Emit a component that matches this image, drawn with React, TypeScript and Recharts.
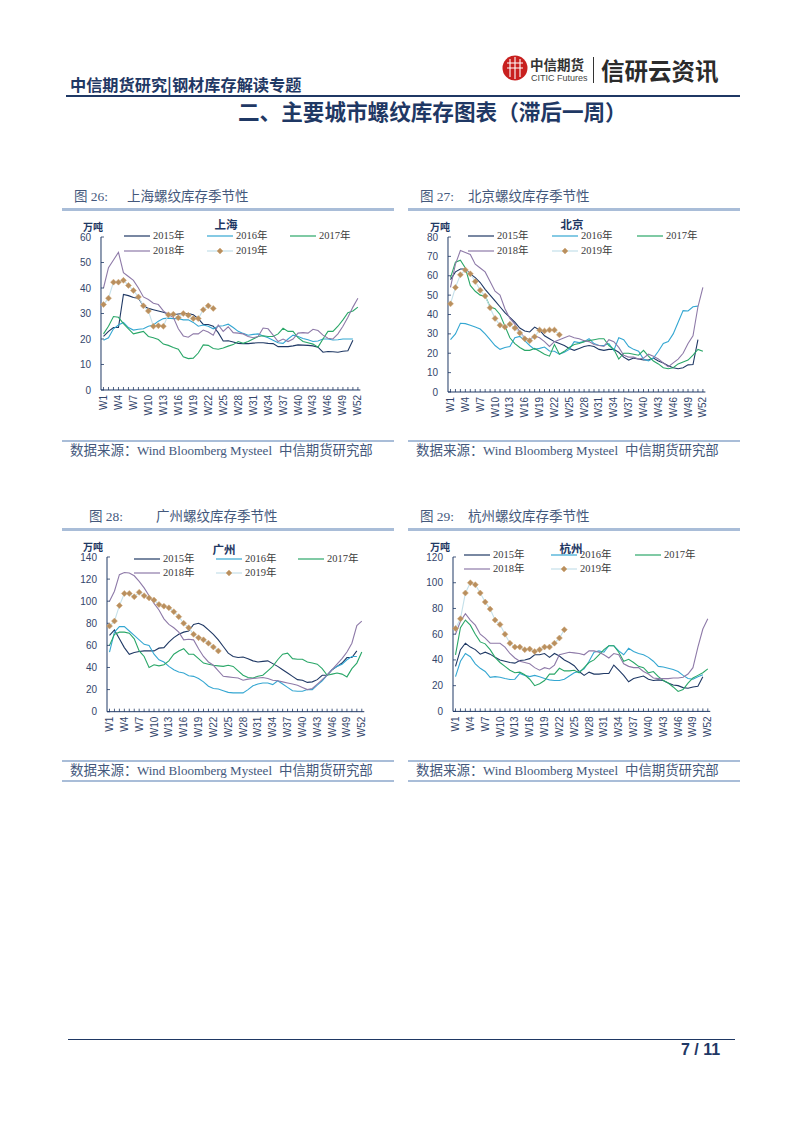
import { LineChart, Line, XAxis, YAxis, Legend } from 'recharts'

const weeks = Array.from({ length: 52 }, (_, i) => `W${i + 1}`)
const years = ['2015年', '2016年', '2017年', '2018年', '2019年']
const seriesColors = ['#1f3864', '#35a7d2', '#2aa768', '#8e7aa8', '#c4e0ea']

const shanghai2015 = [21,23,24.5,24.5,37.5,37,36.3,36,33,32,31.5,31,30.5,29.8,29.5,29.8,30,30,29.5,28,25.7,25.7,25,22.5,19.2,19.3,18.8,18.3,18.2,18.2,18.4,18.5,18.5,18.3,18.2,17,17,17,17.3,17.7,17.6,17.5,17.3,16.8,14.8,15.1,15,14.8,15.2,15.4,19.5]
const shanghai2016 = [19.5,20.5,24,25.5,26.5,24.5,23.5,23.8,24,25,25.5,27,28,28.2,28,28,27.5,27.5,26.5,25,25.5,25,24,25,25.2,25.8,24.5,23,22.2,21.5,21.8,22,21.2,20.5,19.5,18.5,18.3,20,21.5,21,20.2,19.7,19,19.2,20,20,19.6,19.7,20,20,20]
const shanghai2017 = [22,25,28.8,28.5,26,24,22,22.5,23,21,20.5,19.8,18,17.5,16.7,16,13,12.3,12.5,14.5,17.7,17.5,16.3,16,16.5,17.2,17.8,19,18.3,19,20,21,21.3,21,21,22,24.2,23,23,20.5,19,18.5,18,16.8,20,23,23,25,27.5,30.3,31,32.5]
const shanghai2018 = [40,48,51,54,46,44.5,43,40,36.5,35.5,34,33.5,31,29.5,28.5,24,21.2,20.7,22,22,23.5,22.7,21.5,25.5,23,24.8,22.5,22.3,22,21,20.5,21,24.3,24,21.5,19,20,19,20,22.3,22.5,22.3,23.8,23.3,21.5,20.3,20,22,25,28.5,32.5,36]
const shanghai2019 = [33.5,36,42.3,42.3,43,41,39,36.5,33,31,25,25.2,25,29.5,29.7,28.3,30,29.3,28,28,31.5,33,32]

const beijing2015 = [58,62,63.5,63.5,61,59,56.5,53,50,47,44,41,38.5,36,33,31.5,31,33.5,32,29,27.5,26,25,24,22.5,21.5,22.5,23.5,24,23.5,22,21.5,22,22,20.5,18,16.5,17.5,17,16.5,16.5,17.5,16,15,13.5,12.5,12,12.5,14,14.2,27]
const beijing2016 = [27,30,35.5,35.3,34.5,33.5,32.5,30,27,24,22,23,23.5,28,28.7,26.5,24,22,22.5,23.2,21.2,21,19.5,20.5,22,26,25.5,26,27.5,25,24,24,25,21.5,28,27,23.5,22,21,17,16,17.5,21,25,26,30,36,42,41.8,44,44.3]
const beijing2017 = [59,67,68,64,55,52,50,49.5,44,43,40,34,28,25,23,21.5,21.5,22.5,21,19.5,18.5,24.5,19.5,21,23,24.5,25,26,26.5,27,27.5,27.5,24,22,17,20,20,19.5,19,21.5,18.5,16,14.5,12.5,12,12.5,14.5,15.5,16.5,19,22,21]
const beijing2018 = [54,66,73,72,71,66,64,62,57,52,50,43,38,35,31,28,27,29,28,26,23.5,26,27,28,29,28,27.5,26.5,26,24.5,24,23.5,27,26,23,19,18,18,17,17.5,19.5,18.5,17,15,13,15,17,20,25,29,44,54]
const beijing2019 = [45.5,54,60.5,63,61,57,52.5,49.5,43.5,38,34.5,33.5,35,33,30.5,27.5,26.5,28.5,32,31.5,32,32,29.5]

const guangzhou2015 = [69,74,66,58,52,53.5,54.5,55,55,55,57.5,58,63,67,70,72,73,79,80,78,74,70,65,59,53,50,49,49.5,48,46,45,45.5,46,43.5,41,38,35,32,29,28.5,26.5,27,29,33,33,38,41,44,49,49,55]
const guangzhou2016 = [54,72,77,77,73,69,65,61,60,52,47,45,41,38,36,35,32.5,32,30,27,23,21,20.5,19,17.5,17,17,17,20,23.5,25,26,26,24.5,28,25,22,19,18.5,18.5,20,20,24,28,33,38,41,43,47,50,50]
const guangzhou2017 = [60,70,72,72,71,66,55,50,40,42.5,41.5,42.5,46,52,55,57,52,52,48,44,43,42,41.5,41,42,41,37,33,31,30.5,32,33,37,41,47,52,53,48,47.5,47.5,45,44,43,39,33,34,35,34,31.5,39,44,54]
const guangzhou2018 = [100,109,124,126,125.5,123,118,112,105,98,92,84,79,76,72,65,65.5,65,57,50,45,42,37,32,31.5,31,30.5,28.5,29.5,30,30.5,31,30,28.5,28,27,26,25,24,22,20,21,25,29,33,38,43,48,54,62,78,82]
const guangzhou2019 = [77.5,82,96,107,107,104,108,105,103,101,97,95.5,94,90.5,86,80,76,70,67,65,62,58.5,55]

const hangzhou2015 = [35,48,53,50,48,44.5,46,44.5,42,40,39,38,37.5,39.5,40,41,44,44,45,42,45,43,40,38,35.5,31,28,30.5,29,29,29.5,29.5,36,32,28,23,25.5,26.5,27.5,25,24,24.5,24,22,20.5,20,18.5,18,19,19.5,27]
const hangzhou2016 = [27,39,45,42.5,37,33.5,31,26.5,27,26.5,25.5,24.8,25,29.5,28,27,28,27,25.5,24.5,24,24,25,27.5,30,31,33,39,46,47,46,51,51,47,44,49,46.5,45,44,42,39,35,34.5,33.5,32.5,31,28,25.5,25,27,28.5]
const hangzhou2017 = [44,65,71,67,60,54,52.5,48,42,38,35,32,30,30.5,28.5,25,20,21.5,24,29,29,33.5,31.5,31.5,32,30,34,38,40,44,48,51,51,46,39,40.5,38,35,34,30,31,27,24,22,19,15.5,17,22,26,28,30,33]
const hangzhou2018 = [60,70,76,71,67,60,57,53,53,53,50,45,41.5,39,38,37,34,32,34,33,36,44,45,46,45.5,45,44,47,47,46,44,41.5,45,44,37,35,34,34,31,29,26,25.5,25.5,25.5,26,26,26.5,29,34,50,64,72]
const hangzhou2019 = [64.5,72,92,100,98.5,92,85,79.5,71,67.5,60,53,50,50,48,48.5,46.5,48,50,50,53,57,63.5]

const toRows = (series: number[][]) =>
  weeks.map((week, i) => {
    const row: Record<string, string | number | undefined> = { week }
    years.forEach((y, s) => { row[y] = series[s][i] })
    return row
  })

const axisColor = '#1f3864'
const tickColor = '#33456b'
const captionColor = '#44587c'
const latin = '"Liberation Sans", Arial, "Noto Sans CJK SC", sans-serif'
const serifCn = '"Liberation Serif", "Noto Sans CJK SC", serif'
const cjk = '"Noto Sans CJK SC", sans-serif'

function WeekTick({ x, y, payload, index }: any) {
  if (index % 3 !== 0) return null
  return (
    <text
      x={x}
      y={y}
      transform={`rotate(-90 ${x} ${y})`}
      textAnchor="end"
      dy="0.35em"
      fontSize={10}
      fontFamily={latin}
      fill={tickColor}
    >
      {payload.value}
    </text>
  )
}

function Diamond({ cx, cy }: any) {
  if (cy == null) return null
  return <polygon points={`${cx},${cy - 3} ${cx + 3},${cy} ${cx},${cy + 3} ${cx - 3},${cy}`} fill="#b98f5e" stroke="#d0a878" strokeWidth={0.5} />
}

function YearLegend({ left, rowY, plotY, cols }: any) {
  return (
    <div style={{ position: 'absolute', left: 0, top: 0 }}>
      {years.map((y, i) => {
        const lx = cols[i % 3] - left
        const ly = rowY[i < 3 ? 0 : 1] - plotY
        return (
          <div key={y} style={{ position: 'absolute', left: lx, top: ly - 7, width: 70, height: 14 }}>
            <svg width={27} height={14} style={{ position: 'absolute', left: 0, top: 0 }}>
              <line x1={0} x2={26} y1={7} y2={7} stroke={seriesColors[i]} strokeWidth={1.2} />
              {i === 4 && <Diamond cx={13} cy={7} />}
            </svg>
            <span style={{ position: 'absolute', left: 29, top: 0, lineHeight: '14px', fontSize: 10.5, fontFamily: serifCn, color: '#3b3b3b', whiteSpace: 'nowrap' }}>{y}</span>
          </div>
        )
      })}
    </div>
  )
}

function CityChart({ city, series, yMax, yStep, left, right, top, bottom, titleX, titleY, rowY, cols, unitX, unitY }: any) {
  const yTicks: number[] = []
  for (let v = 0; v <= yMax; v += yStep) yTicks.push(v)
  const boxLeft = left - 40
  const boxTop = top - 10
  return (
    <>
      <div style={{ position: 'absolute', left: boxLeft, top: boxTop }}>
        <LineChart
          width={right - left + 45}
          height={bottom - top + 50}
          data={toRows(series)}
          margin={{ top: 10, right: 5, bottom: 0, left: 0 }}
        >
          <XAxis
            dataKey="week"
            interval={0}
            height={40}
            padding={{ left: 2.5, right: 2.5 }}
            tick={<WeekTick />}
            tickSize={-3}
            tickMargin={8}
            axisLine={{ stroke: axisColor, strokeWidth: 1 }}
            tickLine={{ stroke: axisColor, strokeWidth: 0.8 }}
          />
          <YAxis
            width={40}
            domain={[0, yMax]}
            ticks={yTicks}
            interval={0}
            tickSize={-3}
            tickMargin={13}
            tick={{ fontSize: 10, fontFamily: latin, fill: tickColor }}
            axisLine={{ stroke: axisColor, strokeWidth: 1 }}
            tickLine={{ stroke: axisColor, strokeWidth: 0.8 }}
          />
          {years.slice(0, 4).map((y, i) => (
            <Line key={y} dataKey={y} stroke={seriesColors[i]} strokeWidth={1.1} dot={false} isAnimationActive={false} />
          ))}
          <Line dataKey={years[4]} stroke={seriesColors[4]} strokeWidth={1.1} dot={<Diamond />} isAnimationActive={false} />
          <Legend
            content={() => <YearLegend left={boxLeft} rowY={rowY} plotY={boxTop} cols={cols} />}
            wrapperStyle={{ left: 0, top: 0, bottom: 'auto', width: 0, height: 0 }}
          />
        </LineChart>
      </div>
      <div style={{ position: 'absolute', left: titleX - 30, width: 60, top: titleY - 8, height: 16, lineHeight: '16px', textAlign: 'center', fontSize: 11.5, fontWeight: 700, fontFamily: cjk, color: '#1f3864' }}>{city}</div>
      <div style={{ position: 'absolute', left: unitX, top: unitY - 7, height: 14, lineHeight: '14px', fontSize: 10, fontWeight: 700, fontFamily: cjk, color: '#1f3864' }}>万吨</div>
    </>
  )
}

const captionText = (left: number, top: number, size: number): React.CSSProperties => ({
  position: 'absolute', left, top, height: 18, lineHeight: '18px', fontSize: size, fontFamily: serifCn, color: captionColor, whiteSpace: 'nowrap',
})

function Caption({ x, y, label, nameX, name, lineLeft, bottomRule }: any) {
  return (
    <>
      <div style={captionText(x, y - 9, 13.5)}>{label}</div>
      <div style={captionText(nameX, y - 9, 13.5)}>{name}</div>
      <div style={{ position: 'absolute', left: lineLeft, top: y + 11, width: 332, height: 3, background: '#a9bdd8' }} />
      <div style={{ position: 'absolute', left: lineLeft, top: y + 243, width: 332, height: 2, background: '#a9bdd8' }} />
      <div style={captionText(lineLeft + 8, y + 245, 13.5)}>数据来源：</div>
      <div style={captionText(lineLeft + 75, y + 245, 13)}>Wind Bloomberg Mysteel</div>
      <div style={captionText(lineLeft + 217, y + 245, 13.4)}>中信期货研究部</div>
      {bottomRule && <div style={{ position: 'absolute', left: lineLeft, top: y + 263, width: 332, height: 2, background: '#a9bdd8' }} />}
    </>
  )
}

export default function App() {
  return (
    <div style={{ position: 'absolute', left: 0, top: 0, width: 802, height: 1133, background: '#fff', overflow: 'hidden' }}>
      <div style={{ position: 'absolute', left: 70, top: 74, fontSize: 16.2, lineHeight: '20px', fontWeight: 700, fontFamily: cjk, color: '#1f3864', whiteSpace: 'nowrap' }}>中信期货研究|钢材库存解读专题</div>

      <svg width={26} height={26} style={{ position: 'absolute', left: 502, top: 55 }}>
        <circle cx={13} cy={13} r={12.5} fill="#c8201f" />
        <path d="M5 8 H21 M5 13 H21 M8 4 V22 M13 2 V24 M18 4 V22" stroke="#fff" strokeWidth={1.1} fill="none" />
      </svg>
      <div style={{ position: 'absolute', left: 530, top: 56, fontSize: 13.5, lineHeight: '16px', fontWeight: 700, fontFamily: cjk, color: '#333', whiteSpace: 'nowrap' }}>中信期货</div>
      <div style={{ position: 'absolute', left: 531, top: 72, fontSize: 9, lineHeight: '12px', fontFamily: latin, color: '#444', whiteSpace: 'nowrap' }}>CITIC Futures</div>
      <div style={{ position: 'absolute', left: 593, top: 57, width: 1, height: 26, background: '#333' }} />
      <div style={{ position: 'absolute', left: 601, top: 55, fontSize: 23.5, lineHeight: '30px', fontWeight: 700, fontFamily: cjk, color: '#2b2b2b', whiteSpace: 'nowrap' }}>信研云资讯</div>

      <div style={{ position: 'absolute', left: 66, top: 95, width: 674, height: 1.5, background: '#1f3864' }} />
      <div style={{ position: 'absolute', left: 238, top: 97, fontSize: 21.6, lineHeight: '28px', fontWeight: 700, fontFamily: cjk, color: '#1f3864', whiteSpace: 'nowrap' }}>二、主要城市螺纹库存图表（滞后一周）</div>

      <Caption x={74} y={197} lineLeft={62} label="图 26:" nameX={127} name="上海螺纹库存季节性" />
      <Caption x={420} y={197} lineLeft={408} label="图 27:" nameX={468} name="北京螺纹库存季节性" />
      <Caption x={89} y={517} lineLeft={62} bottomRule label="图 28:" nameX={156} name="广州螺纹库存季节性" />
      <Caption x={420} y={517} lineLeft={408} bottomRule label="图 29:" nameX={468} name="杭州螺纹库存季节性" />

      <CityChart
        city="上海"
        series={[shanghai2015, shanghai2016, shanghai2017, shanghai2018, shanghai2019]}
        yMax={60} yStep={10}
        left={101.3} right={360.7} top={237.3} bottom={390.3}
        titleX={226} titleY={224} rowY={[235.7, 250.7]} cols={[124, 207, 290]} unitX={83} unitY={227}
      />
      <CityChart
        city="北京"
        series={[beijing2015, beijing2016, beijing2017, beijing2018, beijing2019]}
        yMax={80} yStep={10}
        left={448.3} right={705.7} top={237.3} bottom={392.3}
        titleX={572} titleY={224} rowY={[235.7, 251]} cols={[468, 552, 637]} unitX={430} unitY={227}
      />
      <CityChart
        city="广州"
        series={[guangzhou2015, guangzhou2016, guangzhou2017, guangzhou2018, guangzhou2019]}
        yMax={140} yStep={20}
        left={106.7} right={364} top={557.3} bottom={712}
        titleX={224} titleY={549} rowY={[559, 573]} cols={[134, 216, 298]} unitX={83} unitY={547}
      />
      <CityChart
        city="杭州"
        series={[hangzhou2015, hangzhou2016, hangzhou2017, hangzhou2018, hangzhou2019]}
        yMax={120} yStep={20}
        left={452.7} right={710} top={557.3} bottom={711.7}
        titleX={571} titleY={548} rowY={[555, 569]} cols={[464, 551, 635]} unitX={430} unitY={547}
      />

      <div style={{ position: 'absolute', left: 68, top: 1039, width: 667, height: 1, background: '#1f3864' }} />
      <div style={{ position: 'absolute', left: 681, top: 1040, fontSize: 16, lineHeight: '20px', fontWeight: 700, fontFamily: latin, color: '#1f3864', whiteSpace: 'nowrap' }}>7 / 11</div>
    </div>
  )
}
